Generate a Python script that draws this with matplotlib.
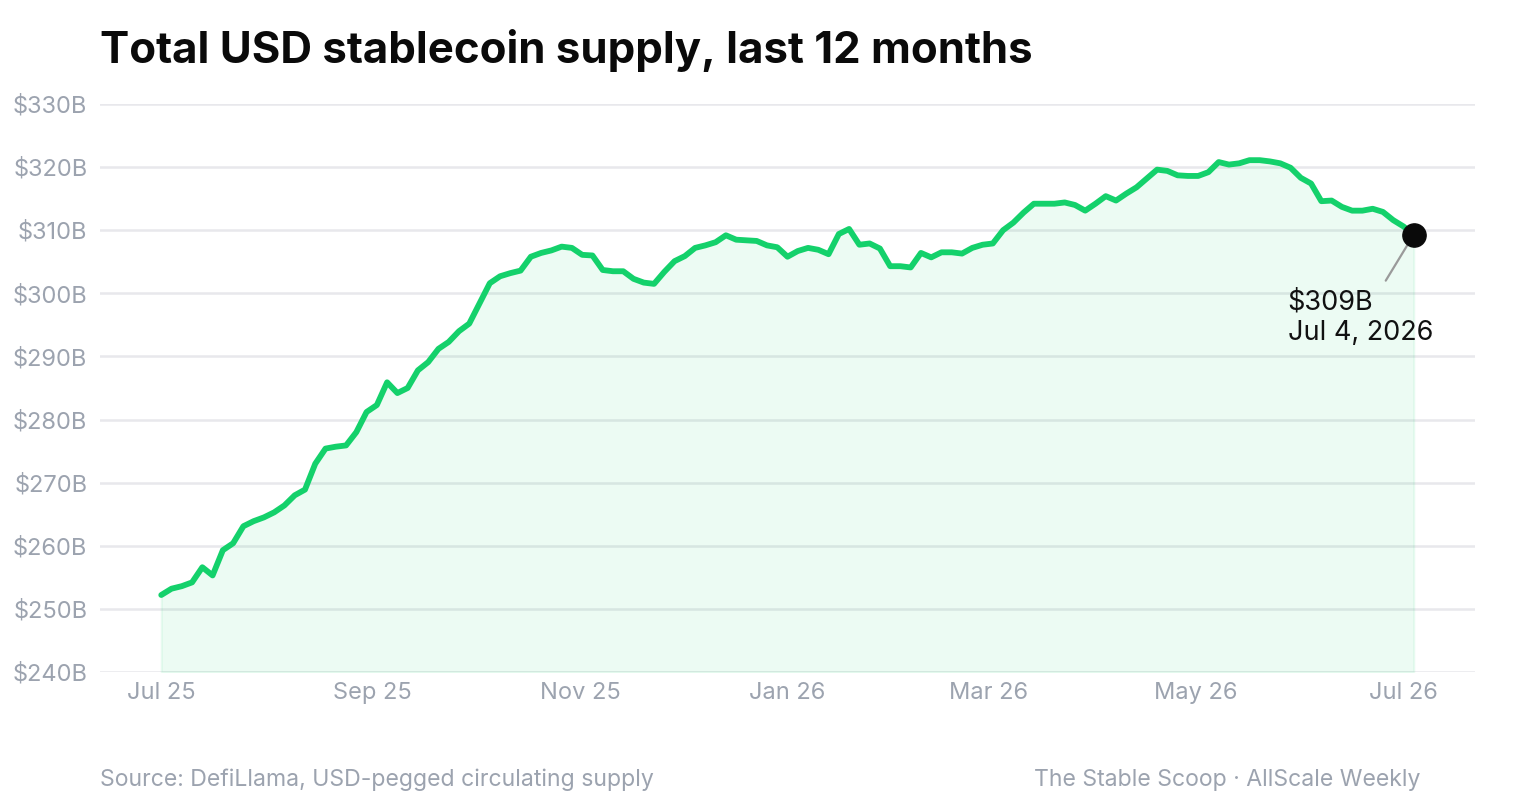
import matplotlib
matplotlib.use("Agg")
import matplotlib.pyplot as plt
import pandas as pd

plt.rcParams['font.family'] = ['Inter', 'DejaVu Sans']

start_date = "2025-07-01"
end_date = "2026-07-04"
supply_b = [
    252.2, 253.2, 253.6, 254.2, 256.6, 255.3, 259.3, 260.4, 263.1, 263.9,
    264.5, 265.3, 266.4, 268.0, 268.9, 273.0, 275.4, 275.7, 275.9, 278.0,
    281.2, 282.3, 285.9, 284.2, 285.0, 287.8, 289.1, 291.2, 292.3, 294.0,
    295.2, 298.4, 301.6, 302.7, 303.2, 303.6, 305.8, 306.4, 306.8, 307.4,
    307.2, 306.1, 306.0, 303.7, 303.5, 303.5, 302.3, 301.7, 301.5, 303.4,
    305.1, 305.9, 307.2, 307.6, 308.1, 309.2, 308.5, 308.4, 308.3, 307.6,
    307.3, 305.8, 306.7, 307.2, 306.9, 306.2, 309.4, 310.2, 307.7, 307.9,
    307.1, 304.3, 304.3, 304.1, 306.4, 305.7, 306.5, 306.5, 306.3, 307.2,
    307.7, 307.9, 310.0, 311.2, 312.8, 314.2, 314.2, 314.2, 314.4, 314.0,
    313.1, 314.2, 315.4, 314.7, 315.8, 316.8, 318.2, 319.6, 319.4, 318.7,
    318.6, 318.6, 319.2, 320.8, 320.4, 320.6, 321.1, 321.1, 320.9, 320.6,
    319.9, 318.3, 317.4, 314.6, 314.7, 313.7, 313.1, 313.1, 313.4, 312.9,
    311.6, 310.6, 309.3,
]
y_ticks = [240, 250, 260, 270, 280, 290, 300, 310, 320, 330]
x_tick_dates = ["2025-07-01", "2025-09-01", "2025-11-01", "2026-01-01",
                "2026-03-01", "2026-05-01", "2026-07-01"]
x_tick_labels = ["Jul 25", "Sep 25", "Nov 25", "Jan 26", "Mar 26", "May 26", "Jul 26"]

dates = pd.date_range(start_date, end_date, periods=len(supply_b))

GREEN = "#14d16b"
GRAY = "#9ca3af"

fig = plt.figure(figsize=(15.2, 8.0), dpi=100)
ax = fig.add_axes([100/1520, 1 - 672/800, (1475-100)/1520, (672-104)/800])

ax.fill_between(dates, supply_b, 240, color=GREEN, alpha=0.08, linewidth=1.5,
                edgecolor=(0.08, 0.82, 0.42, 0.10), zorder=1)
ax.plot(dates, supply_b, color=GREEN, linewidth=4.2, solid_capstyle='round',
        solid_joinstyle='round', zorder=3)

# last point marker & annotation
ax.scatter([dates[-1]], [supply_b[-1]], s=280, color="#0a0a0a", zorder=5)
ax.annotate(f"${supply_b[-1]:.0f}B\nJul 4, 2026",
            xy=(dates[-1], supply_b[-1]), xytext=(-126, -55),
            textcoords='offset pixels',
            ha='left', va='top', fontsize=19.5, color="#111111", linespacing=1.22,
            zorder=6)
ax.annotate("", xy=(dates[-1], supply_b[-1]), xytext=(-28, -46),
            textcoords='offset pixels',
            arrowprops=dict(arrowstyle='-', color="#9a9a9a", lw=1.6,
                            shrinkA=0, shrinkB=9), zorder=4)

ax.set_ylim(240, 330)
ax.set_xlim(pd.Timestamp("2025-06-13"), pd.Timestamp("2026-07-22"))
ax.set_yticks(y_ticks)
ax.set_yticklabels([f"${v}B" for v in y_ticks])
ax.set_xticks(pd.to_datetime(x_tick_dates))
ax.set_xticklabels(x_tick_labels)
ax.grid(axis='y', color="#e8e8ec", linewidth=1.8, zorder=0)
ax.set_axisbelow(True)
for s in ax.spines.values():
    s.set_visible(False)
ax.tick_params(axis='both', length=0, labelsize=17, labelcolor=GRAY)
ax.tick_params(axis='y', pad=9)
ax.tick_params(axis='x', pad=7)

fig.text(100/1520, 1 - 51/800, "Total USD stablecoin supply, last 12 months",
         fontsize=31.5, fontweight='bold', color="#0a0a0a", va='center', ha='left')
fig.text(100/1520, 1 - 780/800, "Source: DefiLlama, USD-pegged circulating supply",
         fontsize=16.6, color=GRAY, va='center', ha='left')
fig.text(1420/1520, 1 - 780/800, "The Stable Scoop · AllScale Weekly",
         fontsize=16.6, color=GRAY, va='center', ha='right')

fig.savefig("out.png", dpi=100, facecolor="white")
